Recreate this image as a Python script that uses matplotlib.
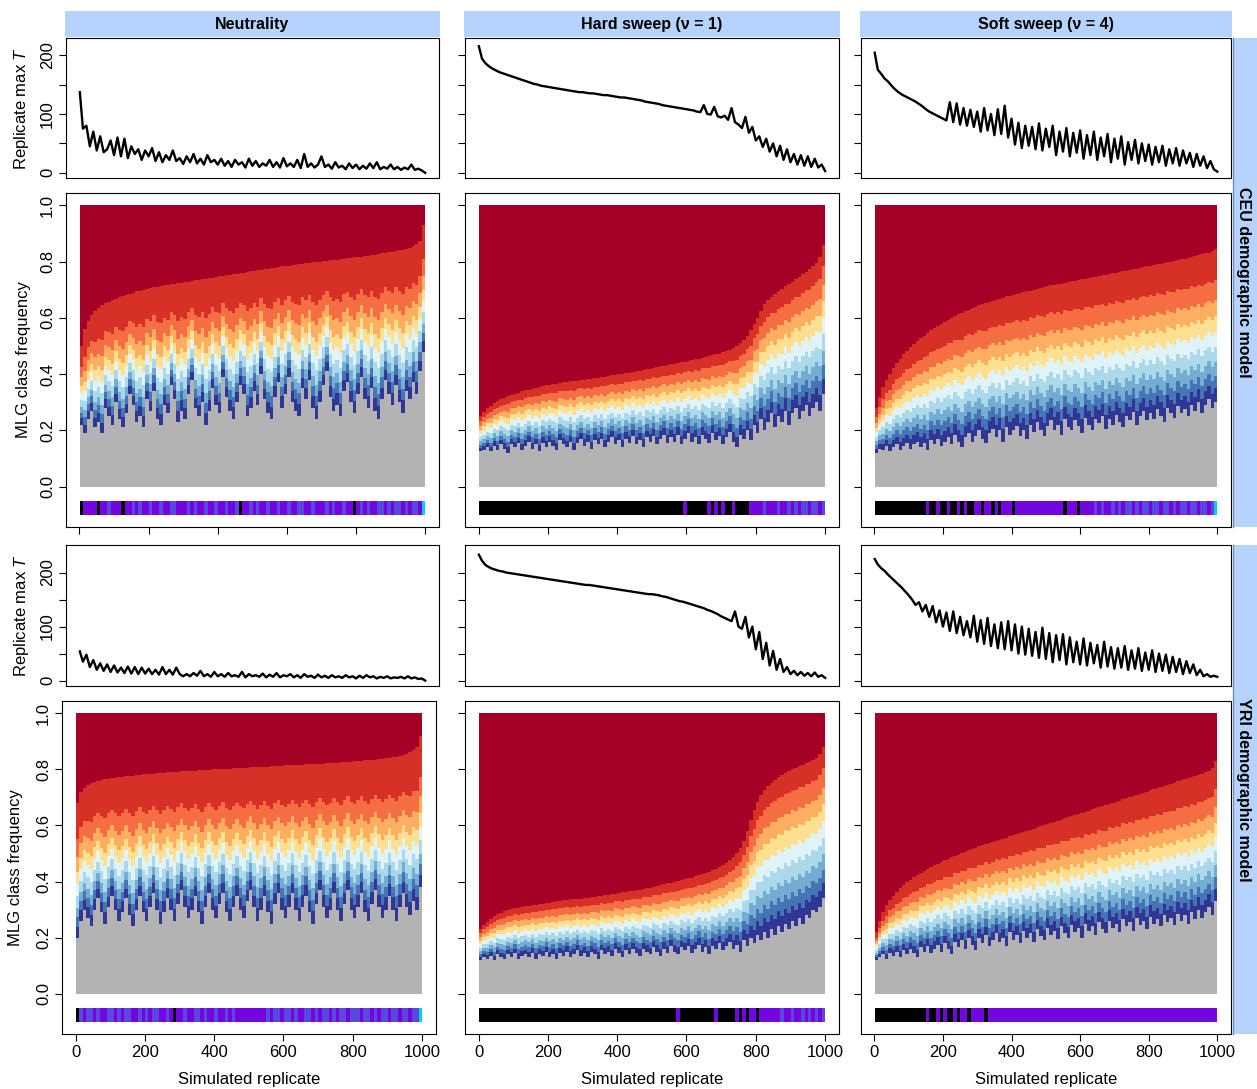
import matplotlib.pyplot as plt
import numpy as np

plt.rcParams['font.family'] = ['Liberation Sans', 'DejaVu Sans']
plt.rcParams['mathtext.fontset'] = 'custom'
plt.rcParams['mathtext.it'] = 'Liberation Sans:italic'
plt.rcParams['mathtext.rm'] = 'Liberation Sans'

W, H = 1257, 1089

scenarios = ['Neutrality', 'Hard sweep (ν = 1)', 'Soft sweep (ν = 4)']
models = ['CEU demographic model', 'YRI demographic model']

# replicate positions: max T read every 10 replicates, class frequencies in blocks of 10
rep_t = np.r_[1, np.arange(10, 1001, 10)]
rep_bar = np.arange(5.5, 1000, 10)

# ---- replicate max T (sorted replicates) ----
T_neu_ceu = [137,
    75, 80, 45, 70, 38, 62, 35, 40, 55, 30,
    60, 28, 58, 25, 45, 32, 40, 22, 38, 28,
    42, 20, 35, 18, 30, 22, 38, 20, 25, 15,
    28, 18, 32, 16, 24, 14, 30, 18, 22, 14,
    24, 12, 20, 10, 22, 14, 18, 9, 24, 12,
    20, 10, 16, 12, 22, 10, 18, 9, 25, 11,
    16, 10, 22, 8, 32, 10, 16, 9, 14, 28,
    10, 14, 7, 18, 9, 12, 6, 16, 8, 14,
    6, 12, 7, 16, 8, 18, 6, 10, 7, 14,
    6, 10, 5, 9, 6, 14, 5, 7, 4, 0]
T_hard_ceu = [215,
    194, 186, 181, 177, 174, 171, 169, 167, 165, 163,
    161, 159, 157, 155, 153, 151, 150, 148, 147, 146,
    145, 144, 143, 142, 141, 140, 139, 138, 137, 137,
    136, 135, 135, 134, 133, 132, 132, 131, 130, 129,
    128, 128, 127, 126, 125, 124, 123, 121, 120, 119,
    118, 117, 115, 114, 113, 112, 111, 110, 109, 108,
    107, 106, 104, 103, 115, 100, 99, 112, 96, 94,
    97, 90, 110, 86, 82, 76, 95, 68, 78, 55,
    62, 44, 58, 36, 50, 28, 46, 22, 40, 18,
    32, 14, 30, 12, 28, 10, 24, 9, 14, 3]
T_soft_ceu = [204,
    175, 168, 160, 155, 148, 142, 137, 133, 130, 127,
    124, 121, 117, 113, 108, 104, 101, 98, 95, 92,
    89, 120, 86, 118, 82, 110, 80, 107, 78, 104,
    70, 110, 72, 100, 64, 108, 66, 114, 60, 92,
    48, 85, 42, 80, 46, 78, 40, 84, 38, 75,
    44, 80, 30, 70, 36, 76, 28, 68, 34, 72,
    24, 64, 30, 70, 22, 60, 28, 66, 18, 58,
    24, 62, 14, 52, 22, 56, 16, 50, 20, 48,
    14, 44, 18, 46, 12, 40, 16, 42, 12, 38,
    16, 34, 10, 32, 12, 28, 8, 20, 6, 2]
T_neu_yri = [54,
    35, 48, 25, 38, 20, 32, 18, 30, 16, 28,
    15, 24, 14, 26, 13, 25, 12, 24, 13, 22,
    12, 20, 11, 25, 12, 20, 11, 24, 12, 8,
    12, 8, 14, 9, 18, 8, 12, 7, 16, 8,
    12, 7, 14, 8, 10, 7, 16, 6, 12, 8,
    10, 7, 13, 6, 11, 7, 14, 6, 10, 8,
    12, 6, 10, 5, 12, 7, 9, 5, 11, 6,
    9, 5, 10, 6, 8, 5, 10, 6, 8, 4,
    9, 5, 10, 6, 8, 4, 7, 5, 8, 4,
    6, 5, 7, 4, 8, 4, 6, 3, 4, 0]
T_hard_yri = [233,
    222, 214, 210, 207, 205, 203, 202, 200, 199, 198,
    197, 196, 195, 194, 193, 192, 191, 190, 189, 188,
    187, 186, 185, 184, 183, 182, 181, 180, 179, 178,
    177, 177, 176, 175, 174, 173, 172, 171, 170, 169,
    168, 167, 166, 165, 164, 163, 162, 161, 160, 160,
    159, 158, 156, 155, 153, 151, 149, 147, 146, 144,
    142, 140, 138, 136, 134, 131, 129, 126, 123, 119,
    116, 113, 110, 128, 100, 96, 118, 80, 100, 58,
    90, 40, 70, 28, 55, 20, 40, 16, 25, 12,
    18, 10, 16, 9, 14, 8, 15, 7, 10, 5]
T_soft_yri = [225,
    215, 208, 203, 196, 190, 184, 178, 172, 165, 158,
    150, 140, 145, 128, 140, 118, 138, 108, 130, 100,
    126, 92, 128, 88, 118, 84, 110, 80, 120, 72,
    112, 68, 116, 64, 104, 60, 108, 58, 110, 56,
    104, 50, 100, 48, 96, 46, 90, 42, 98, 40,
    88, 34, 84, 38, 86, 30, 80, 34, 72, 30,
    78, 28, 70, 32, 66, 24, 72, 26, 62, 22,
    60, 24, 64, 20, 56, 22, 60, 18, 52, 20,
    56, 16, 50, 18, 48, 14, 44, 16, 40, 12,
    36, 14, 30, 10, 20, 8, 12, 7, 9, 7]

# ---- MLG class frequencies: bottom of the top class (red) and top of the grey class ----
r_neu_ceu = [0.50, 0.56, 0.59, 0.61, 0.625, 0.635, 0.645, 0.652, 0.658, 0.663,
    0.668, 0.673, 0.678, 0.682, 0.686, 0.690, 0.694, 0.697, 0.700, 0.703,
    0.706, 0.709, 0.711, 0.713, 0.715, 0.717, 0.719, 0.721, 0.723, 0.725,
    0.727, 0.729, 0.731, 0.733, 0.735, 0.737, 0.739, 0.741, 0.743, 0.745,
    0.747, 0.749, 0.751, 0.753, 0.755, 0.757, 0.759, 0.761, 0.763, 0.765,
    0.767, 0.769, 0.771, 0.773, 0.775, 0.777, 0.779, 0.781, 0.783, 0.785,
    0.786, 0.788, 0.789, 0.791, 0.792, 0.794, 0.795, 0.797, 0.798, 0.800,
    0.801, 0.803, 0.804, 0.806, 0.807, 0.809, 0.810, 0.812, 0.813, 0.815,
    0.816, 0.818, 0.819, 0.821, 0.823, 0.825, 0.827, 0.829, 0.831, 0.833,
    0.835, 0.837, 0.840, 0.843, 0.846, 0.850, 0.855, 0.862, 0.875, 0.93]
g_neu_ceu = [0.22, 0.19, 0.24, 0.27, 0.21, 0.23, 0.19, 0.28, 0.25, 0.22,
    0.30, 0.24, 0.21, 0.26, 0.33, 0.29, 0.23, 0.25, 0.21, 0.31,
    0.27, 0.34, 0.24, 0.22, 0.29, 0.26, 0.36, 0.31, 0.23, 0.27,
    0.24, 0.33, 0.38, 0.28, 0.25, 0.30, 0.22, 0.27, 0.35, 0.29,
    0.26, 0.39, 0.32, 0.27, 0.24, 0.30, 0.36, 0.33, 0.25, 0.28,
    0.34, 0.29, 0.40, 0.31, 0.26, 0.24, 0.32, 0.37, 0.28, 0.33,
    0.39, 0.30, 0.27, 0.25, 0.35, 0.31, 0.38, 0.28, 0.24, 0.30,
    0.36, 0.41, 0.32, 0.27, 0.29, 0.25, 0.34, 0.37, 0.30, 0.26,
    0.33, 0.39, 0.31, 0.28, 0.35, 0.27, 0.24, 0.31, 0.38, 0.33,
    0.29, 0.36, 0.30, 0.26, 0.34, 0.31, 0.37, 0.33, 0.41, 0.48]
r_hard_ceu = [0.25, 0.265, 0.278, 0.288, 0.297, 0.304, 0.31, 0.316, 0.321, 0.326,
    0.330, 0.334, 0.338, 0.342, 0.345, 0.348, 0.351, 0.354, 0.357, 0.360,
    0.362, 0.364, 0.366, 0.368, 0.370, 0.372, 0.374, 0.375, 0.377, 0.378,
    0.380, 0.381, 0.383, 0.385, 0.387, 0.389, 0.391, 0.393, 0.395, 0.397,
    0.399, 0.401, 0.403, 0.405, 0.407, 0.410, 0.412, 0.414, 0.417, 0.419,
    0.422, 0.424, 0.427, 0.429, 0.432, 0.434, 0.437, 0.439, 0.442, 0.444,
    0.447, 0.449, 0.452, 0.455, 0.458, 0.461, 0.464, 0.467, 0.470, 0.473,
    0.477, 0.481, 0.486, 0.492, 0.500, 0.510, 0.522, 0.537, 0.556, 0.578,
    0.60, 0.625, 0.648, 0.663, 0.675, 0.685, 0.694, 0.703, 0.712, 0.720,
    0.728, 0.737, 0.746, 0.755, 0.764, 0.773, 0.783, 0.795, 0.815, 0.86]
g_hard_ceu = [0.125, 0.13, 0.14, 0.125, 0.145, 0.13, 0.15, 0.135, 0.12, 0.15,
    0.14, 0.155, 0.13, 0.145, 0.16, 0.135, 0.15, 0.125, 0.155, 0.14,
    0.16, 0.145, 0.13, 0.165, 0.15, 0.14, 0.16, 0.13, 0.155, 0.17,
    0.145, 0.16, 0.135, 0.165, 0.15, 0.17, 0.14, 0.16, 0.175, 0.15,
    0.165, 0.14, 0.17, 0.155, 0.18, 0.15, 0.165, 0.14, 0.175, 0.16,
    0.18, 0.15, 0.17, 0.185, 0.155, 0.175, 0.16, 0.185, 0.15, 0.17,
    0.19, 0.16, 0.175, 0.15, 0.185, 0.17, 0.155, 0.19, 0.165, 0.18,
    0.15, 0.175, 0.195, 0.16, 0.14, 0.185, 0.17, 0.20, 0.165, 0.22,
    0.19, 0.24, 0.20, 0.23, 0.26, 0.21, 0.25, 0.23, 0.27, 0.22,
    0.26, 0.28, 0.24, 0.27, 0.29, 0.25, 0.28, 0.30, 0.27, 0.33]
r_soft_ceu = [0.28, 0.32, 0.355, 0.38, 0.40, 0.42, 0.44, 0.455, 0.47, 0.483,
    0.495, 0.506, 0.517, 0.527, 0.537, 0.546, 0.555, 0.563, 0.571, 0.579,
    0.586, 0.593, 0.600, 0.606, 0.612, 0.618, 0.624, 0.629, 0.634, 0.639,
    0.644, 0.648, 0.652, 0.656, 0.660, 0.664, 0.668, 0.672, 0.676, 0.679,
    0.682, 0.685, 0.688, 0.691, 0.694, 0.697, 0.700, 0.703, 0.706, 0.709,
    0.712, 0.715, 0.717, 0.720, 0.722, 0.725, 0.727, 0.730, 0.732, 0.735,
    0.737, 0.739, 0.742, 0.744, 0.746, 0.749, 0.751, 0.753, 0.756, 0.758,
    0.760, 0.763, 0.765, 0.768, 0.770, 0.773, 0.775, 0.778, 0.780, 0.783,
    0.785, 0.788, 0.790, 0.793, 0.795, 0.798, 0.800, 0.803, 0.806, 0.809,
    0.811, 0.814, 0.817, 0.820, 0.823, 0.826, 0.829, 0.832, 0.836, 0.845]
g_soft_ceu = [0.12, 0.135, 0.13, 0.145, 0.125, 0.14, 0.15, 0.13, 0.145, 0.155,
    0.135, 0.15, 0.16, 0.14, 0.155, 0.13, 0.165, 0.15, 0.17, 0.145,
    0.16, 0.175, 0.15, 0.185, 0.16, 0.14, 0.175, 0.19, 0.16, 0.18,
    0.2, 0.17, 0.155, 0.19, 0.205, 0.175, 0.2, 0.16, 0.21, 0.185,
    0.2, 0.215, 0.18, 0.2, 0.17, 0.22, 0.195, 0.23, 0.2, 0.18,
    0.215, 0.235, 0.2, 0.22, 0.185, 0.24, 0.21, 0.2, 0.235, 0.215,
    0.19, 0.245, 0.22, 0.2, 0.24, 0.225, 0.25, 0.205, 0.24, 0.22,
    0.255, 0.23, 0.21, 0.25, 0.235, 0.265, 0.22, 0.25, 0.27, 0.235,
    0.26, 0.24, 0.275, 0.25, 0.23, 0.28, 0.26, 0.245, 0.285, 0.26,
    0.275, 0.25, 0.29, 0.27, 0.3, 0.26, 0.29, 0.31, 0.28, 0.3]
r_neu_yri = [0.68, 0.72, 0.735, 0.745, 0.75, 0.755, 0.758, 0.761, 0.764, 0.766,
    0.768, 0.770, 0.772, 0.774, 0.775, 0.777, 0.778, 0.780, 0.781, 0.782,
    0.783, 0.784, 0.785, 0.786, 0.787, 0.788, 0.789, 0.790, 0.791, 0.792,
    0.793, 0.794, 0.794, 0.795, 0.796, 0.797, 0.797, 0.798, 0.799, 0.800,
    0.800, 0.801, 0.802, 0.802, 0.803, 0.804, 0.804, 0.805, 0.806, 0.806,
    0.807, 0.808, 0.808, 0.809, 0.810, 0.810, 0.811, 0.812, 0.812, 0.813,
    0.814, 0.814, 0.815, 0.816, 0.816, 0.817, 0.818, 0.818, 0.819, 0.820,
    0.820, 0.821, 0.822, 0.823, 0.823, 0.824, 0.825, 0.826, 0.827, 0.828,
    0.829, 0.830, 0.831, 0.832, 0.833, 0.834, 0.835, 0.836, 0.838, 0.840,
    0.842, 0.844, 0.846, 0.849, 0.852, 0.856, 0.861, 0.868, 0.88, 0.92]
g_neu_yri = [0.20, 0.26, 0.30, 0.27, 0.24, 0.30, 0.34, 0.29, 0.25, 0.31,
    0.35, 0.30, 0.26, 0.29, 0.34, 0.28, 0.24, 0.30, 0.35, 0.29,
    0.26, 0.31, 0.36, 0.30, 0.25, 0.29, 0.34, 0.30, 0.26, 0.32,
    0.37, 0.31, 0.27, 0.30, 0.35, 0.29, 0.25, 0.31, 0.36, 0.30,
    0.27, 0.32, 0.36, 0.29, 0.26, 0.31, 0.35, 0.30, 0.27, 0.33,
    0.37, 0.31, 0.26, 0.30, 0.35, 0.29, 0.25, 0.32, 0.36, 0.30,
    0.27, 0.31, 0.36, 0.30, 0.26, 0.31, 0.35, 0.29, 0.25, 0.32,
    0.37, 0.31, 0.27, 0.30, 0.36, 0.30, 0.26, 0.32, 0.37, 0.30,
    0.27, 0.31, 0.36, 0.29, 0.26, 0.32, 0.37, 0.31, 0.27, 0.30,
    0.35, 0.30, 0.26, 0.31, 0.36, 0.31, 0.28, 0.33, 0.30, 0.38]
r_hard_yri = [0.23, 0.245, 0.257, 0.267, 0.276, 0.283, 0.289, 0.294, 0.298, 0.302,
    0.305, 0.307, 0.309, 0.311, 0.313, 0.315, 0.317, 0.319, 0.321, 0.323,
    0.325, 0.327, 0.329, 0.331, 0.333, 0.334, 0.336, 0.337, 0.338, 0.339,
    0.341, 0.342, 0.344, 0.346, 0.348, 0.349, 0.351, 0.353, 0.355, 0.357,
    0.359, 0.361, 0.363, 0.365, 0.367, 0.369, 0.371, 0.374, 0.376, 0.378,
    0.381, 0.384, 0.387, 0.390, 0.393, 0.396, 0.399, 0.402, 0.405, 0.408,
    0.411, 0.414, 0.418, 0.422, 0.426, 0.430, 0.435, 0.440, 0.445, 0.451,
    0.458, 0.466, 0.475, 0.486, 0.50, 0.52, 0.545, 0.58, 0.62, 0.655,
    0.685, 0.708, 0.726, 0.74, 0.752, 0.763, 0.772, 0.78, 0.787, 0.794,
    0.80, 0.806, 0.812, 0.817, 0.822, 0.827, 0.832, 0.84, 0.855, 0.88]
g_hard_yri = [0.12, 0.13, 0.125, 0.135, 0.12, 0.14, 0.13, 0.125, 0.14, 0.13,
    0.145, 0.125, 0.135, 0.14, 0.13, 0.145, 0.125, 0.14, 0.135, 0.15,
    0.13, 0.14, 0.125, 0.145, 0.135, 0.15, 0.13, 0.14, 0.155, 0.135,
    0.145, 0.13, 0.15, 0.14, 0.125, 0.155, 0.14, 0.15, 0.135, 0.16,
    0.145, 0.13, 0.155, 0.14, 0.16, 0.145, 0.135, 0.16, 0.15, 0.14,
    0.165, 0.15, 0.135, 0.16, 0.145, 0.17, 0.15, 0.14, 0.165, 0.155,
    0.17, 0.145, 0.16, 0.175, 0.15, 0.165, 0.14, 0.17, 0.16, 0.18,
    0.155, 0.17, 0.185, 0.16, 0.175, 0.15, 0.19, 0.17, 0.20, 0.18,
    0.21, 0.19, 0.22, 0.2, 0.23, 0.21, 0.24, 0.22, 0.25, 0.23,
    0.26, 0.24, 0.27, 0.25, 0.28, 0.27, 0.3, 0.29, 0.31, 0.34]
r_soft_yri = [0.22, 0.26, 0.29, 0.315, 0.335, 0.35, 0.364, 0.376, 0.387, 0.397,
    0.406, 0.415, 0.423, 0.431, 0.438, 0.445, 0.452, 0.458, 0.464, 0.470,
    0.476, 0.481, 0.486, 0.491, 0.496, 0.501, 0.506, 0.511, 0.516, 0.521,
    0.525, 0.529, 0.533, 0.537, 0.541, 0.545, 0.549, 0.553, 0.557, 0.561,
    0.565, 0.569, 0.573, 0.577, 0.581, 0.585, 0.589, 0.593, 0.597, 0.601,
    0.605, 0.609, 0.613, 0.617, 0.621, 0.625, 0.629, 0.633, 0.637, 0.641,
    0.645, 0.649, 0.653, 0.657, 0.661, 0.665, 0.669, 0.673, 0.677, 0.681,
    0.685, 0.689, 0.693, 0.697, 0.701, 0.705, 0.709, 0.713, 0.717, 0.721,
    0.725, 0.729, 0.733, 0.737, 0.741, 0.745, 0.749, 0.753, 0.757, 0.761,
    0.765, 0.769, 0.773, 0.777, 0.781, 0.785, 0.79, 0.796, 0.805, 0.83]
g_soft_yri = [0.12, 0.13, 0.14, 0.125, 0.145, 0.135, 0.15, 0.13, 0.155, 0.14,
    0.16, 0.145, 0.13, 0.165, 0.15, 0.17, 0.145, 0.16, 0.175, 0.15,
    0.18, 0.16, 0.14, 0.185, 0.165, 0.19, 0.16, 0.2, 0.175, 0.155,
    0.2, 0.18, 0.21, 0.17, 0.19, 0.215, 0.185, 0.2, 0.17, 0.22,
    0.19, 0.21, 0.18, 0.225, 0.2, 0.215, 0.185, 0.23, 0.205, 0.19,
    0.235, 0.21, 0.225, 0.195, 0.24, 0.215, 0.2, 0.245, 0.22, 0.235,
    0.2, 0.25, 0.225, 0.24, 0.21, 0.255, 0.23, 0.215, 0.26, 0.235,
    0.25, 0.22, 0.265, 0.24, 0.255, 0.225, 0.27, 0.245, 0.26, 0.23,
    0.275, 0.25, 0.265, 0.24, 0.28, 0.255, 0.27, 0.245, 0.285, 0.26,
    0.28, 0.25, 0.29, 0.265, 0.3, 0.27, 0.29, 0.31, 0.28, 0.33]

# relative sizes of the intermediate classes 2..10 (top to bottom)
share_neu = [0.27, 0.13, 0.11, 0.09, 0.09, 0.09, 0.07, 0.07, 0.08]
share_hard = [0.14, 0.13, 0.11, 0.11, 0.11, 0.11, 0.10, 0.09, 0.10]
share_soft = [0.20, 0.13, 0.11, 0.10, 0.10, 0.10, 0.09, 0.08, 0.09]

# sweep call strip, one letter per block of 10 replicates
strip_neu_ceu = ''.join(["KPPPPKPPBP", "PPKPPBPBPP", "BPPBPPBBPP", "PBPBPPBPPB", "PPBPPBKPPB",
                         "PBPPBPPBPP", "BPPBBPPBPP", "PBPBPPBPPK", "PBPBPPBBPB", "PBBPBPBBPC"])
strip_hard_ceu = ''.join(["KKKKKKKKKK"] * 5 + ["KKKKKKKKKP", "KKKKKKPKPK", "PKKPKKKKPP",
                                               "PPBPPPBPPB", "PBPBBPBBPB"])
strip_soft_ceu = ''.join(["KKKKKKKKKK", "KKKKKPKKPK", "KPKKPKPKKP", "PKPPKPKPPP", "KPPPPPPPPP",
                          "PPPPPKPPPK", "PPPPBPBPPB", "PBPBBPBPBB", "PBBPBBPBPB", "BPBBPBBPBC"])
strip_neu_yri = ''.join(["KBPBBPBPPB", "BPBPBBPPBP", "BPBBPPBPKP", "PBPPBBPBPP", "BPPBPBPPPP",
                         "PPPPPBPBBP", "BBPBPPBBPB", "PBBPBPBBPB", "BBPBBPBPBB", "PBBPBBPBBC"])
strip_hard_yri = ''.join(["KKKKKKKKKK"] * 5 + ["KKKKKKKPKK", "KKKKKKKKPK", "KKKKPKPKPP",
                                               "KPPPPPPBPP", "BPPBPBPBPB"])
strip_soft_yri = ''.join(["KKKKKKKKKK", "KKKKKPKKPK", "PKKPKPPKPP", "PPKPPPPPPP"] + ["PPPPPPPPPP"] * 6)

T_data = [[T_neu_ceu, T_hard_ceu, T_soft_ceu], [T_neu_yri, T_hard_yri, T_soft_yri]]
r_data = [[r_neu_ceu, r_hard_ceu, r_soft_ceu], [r_neu_yri, r_hard_yri, r_soft_yri]]
g_data = [[g_neu_ceu, g_hard_ceu, g_soft_ceu], [g_neu_yri, g_hard_yri, g_soft_yri]]
strips = [[strip_neu_ceu, strip_hard_ceu, strip_soft_ceu], [strip_neu_yri, strip_hard_yri, strip_soft_yri]]
shares = [share_neu, share_hard, share_soft]

top_color = '#a50026'
mid_colors = ['#d73027', '#f46d43', '#fdae61', '#fee090', '#e0f3f8',
              '#abd9e9', '#74add1', '#4575b4', '#313695']
grey = '#b3b3b3'
strip_colors = {'K': '#000000', 'P': '#7306e0', 'B': '#5848dc', 'C': '#00d2e6'}
head_color = '#b5d3fc'

fig = plt.figure(figsize=(W / 100, H / 100), dpi=100)


def px_axes(x0, y0, x1, y1):
    return fig.add_axes([x0 / W, 1 - y1 / H, (x1 - x0) / W, (y1 - y0) / H])


def style(ax):
    for s in ax.spines.values():
        s.set_linewidth(0.8)
    ax.tick_params(direction='out', length=5, width=0.8, labelsize=12, pad=3)


col_x = [(66, 439), (465, 839), (861, 1231)]
rows = [((38, 178), (193, 527)), ((545, 686), (701, 1034))]
T_ylims = [(-8.8, 229), (-10, 251)]

for j, (x0, x1) in enumerate(col_x):
    hx = px_axes(x0 - 1, 11, x1 + 1, 37)
    hx.set_facecolor(head_color)
    hx.set_xticks([]); hx.set_yticks([])
    for s in hx.spines.values():
        s.set_visible(False)
    hx.text(0.5, 0.5, scenarios[j], ha='center', va='center', fontsize=11.5, fontweight='bold')

for i in range(2):
    (ty0, ty1), (my0, my1) = rows[i]
    for j, (x0, x1) in enumerate(col_x):
        # replicate max T
        ax = px_axes(x0, ty0, x1, ty1)
        style(ax)
        ax.plot(rep_t, T_data[i][j], color='black', lw=1.7)
        ax.set_xlim(-39, 1040)
        ax.set_ylim(*T_ylims[i])
        ax.set_xticks([])
        ax.set_yticks([0, 50, 100, 150, 200])
        if j == 0:
            ax.set_yticklabels(['0', '', '100', '', '200'], rotation=90, va='center')
            ax.set_ylabel('Replicate max $T$', fontsize=12)
            ax.yaxis.set_label_coords(-0.095, 0.5)
        else:
            ax.set_yticklabels([])

        # MLG class frequencies, painted as cumulative bars from the top class down
        mx0, mx1 = (62, 436) if (i == 1 and j == 0) else (x0, x1)
        ax = px_axes(mx0, my0, mx1, my1)
        style(ax)
        r = np.array(r_data[i][j])
        g = np.array(g_data[i][j])
        w = np.array(shares[j])
        w = w / w.sum()
        ax.bar(rep_bar, np.ones_like(r), width=10, color=top_color, linewidth=0, antialiased=False)
        top = r.copy()
        for k in range(len(mid_colors)):
            ax.bar(rep_bar, top, width=10, color=mid_colors[k], linewidth=0, antialiased=False)
            top = top - (r - g) * w[k]
        ax.bar(rep_bar, g, width=10, color=grey, linewidth=0, antialiased=False)
        ax.bar(rep_bar, 0.05, bottom=-0.1, width=10,
               color=[strip_colors[c] for c in strips[i][j]], linewidth=0, antialiased=False)
        ax.set_xlim(-39, 1040)
        ax.set_ylim(-0.144, 1.044)
        ax.set_xticks(np.arange(0, 1001, 200))
        ax.set_yticks(np.arange(0, 1.01, 0.2))
        if j == 0:
            ax.set_yticklabels(['0.0', '0.2', '0.4', '0.6', '0.8', '1.0'], rotation=90, va='center')
            ax.set_ylabel('MLG class frequency', fontsize=12)
            ax.yaxis.set_label_coords(-0.095 if i == 0 else -0.105, 0.5)
        else:
            ax.set_yticklabels([])
        if i == 1:
            ax.set_xlabel('Simulated replicate', fontsize=12)
            ax.xaxis.set_label_coords(0.5, -0.115)
        else:
            ax.set_xticklabels([])

    # right-hand model strip
    sx = px_axes(1233, ty0, 1257, my1)
    sx.set_facecolor(head_color)
    sx.set_xticks([]); sx.set_yticks([])
    for name, s in sx.spines.items():
        s.set_visible(name == 'left')
    sx.spines['left'].set_color('#6f8fc4')
    sx.spines['left'].set_linewidth(1.0)
    sx.text(0.45, 0.5, models[i], rotation=-90, ha='center', va='center',
            fontsize=11.5, fontweight='bold', transform=sx.transAxes)

fig.savefig('out.png', dpi=100)
